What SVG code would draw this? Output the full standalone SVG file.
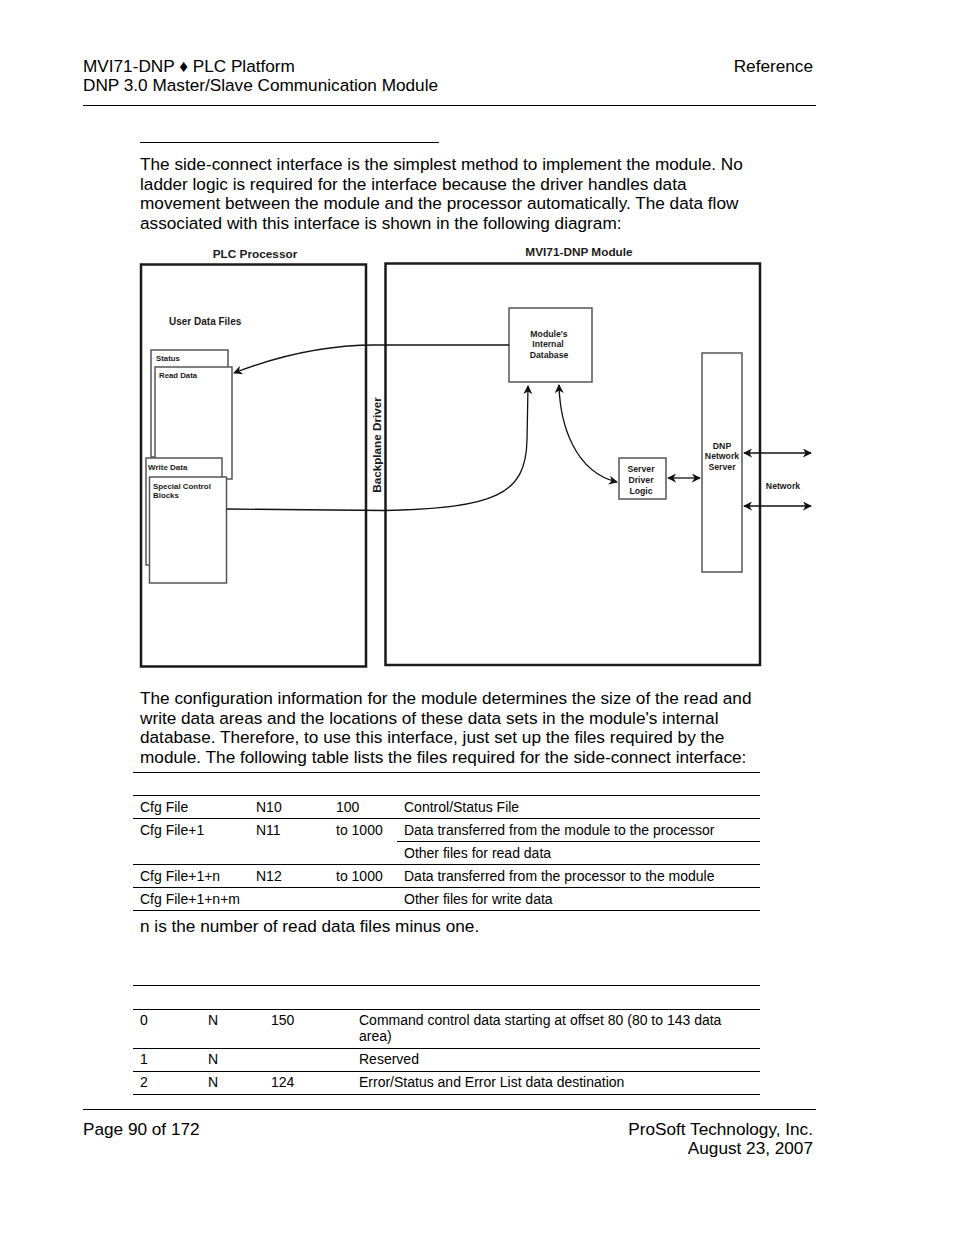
<svg xmlns="http://www.w3.org/2000/svg" width="954" height="1235" viewBox="0 0 954 1235">
<style>
.t{font-family:"Liberation Sans",Arial,sans-serif;fill:#000}
.h{font-size:17.2px}
.p{font-size:17.2px}
.tb{font-size:14px}
.d{font-family:"Liberation Sans",Arial,sans-serif;font-weight:bold;fill:#1a1a1a}
.outer{fill:none;stroke:#1a1a1a;stroke-width:2.5}
.box{fill:#fff;stroke:#555;stroke-width:1.5}
.rule{stroke:#000;stroke-width:1}
.conn{fill:none;stroke:#111;stroke-width:1.3}
</style>
<defs>
<marker id="ah" viewBox="0 0 10 10" refX="9" refY="5" markerWidth="9" markerHeight="9" orient="auto-start-reverse" markerUnits="userSpaceOnUse">
<path d="M0,0 L10,5 L0,10 L3,5 z" fill="#111"/>
</marker>
</defs>
<rect width="954" height="1235" fill="#fff"/>

<g id="header">
<text class="t h" x="83" y="72">MVI71-DNP ♦ PLC Platform</text>
<text class="t h" x="83" y="91">DNP 3.0 Master/Slave Communication Module</text>
<text class="t h" x="813" y="72" text-anchor="end">Reference</text>
<line class="rule" x1="83" y1="105.5" x2="816" y2="105.5"/>
<line class="rule" x1="140" y1="142.5" x2="439" y2="142.5"/>
</g>

<g id="intro">
<text class="t p" x="140" y="170">The side-connect interface is the simplest method to implement the module. No</text>
<text class="t p" x="140" y="190">ladder logic is required for the interface because the driver handles data</text>
<text class="t p" x="140" y="209">movement between the module and the processor automatically. The data flow</text>
<text class="t p" x="140" y="229">associated with this interface is shown in the following diagram:</text>
</g>

<g id="plc-processor">
<text class="d" x="255" y="258" font-size="11.8" text-anchor="middle">PLC Processor</text>
<rect class="outer" x="141" y="264.5" width="225" height="402"/>
<text class="d" x="169" y="325" font-size="10">User Data Files</text>
</g>
<g id="status-file">
<rect class="box" x="151" y="350" width="77" height="107"/>
<text class="d" x="156" y="361" font-size="7.8">Status</text>
</g>
<g id="read-data-file">
<rect class="box" x="155" y="367" width="77" height="112"/>
<text class="d" x="159" y="378" font-size="7.8">Read Data</text>
</g>
<g id="write-data-file">
<rect class="box" x="146" y="458" width="76" height="107"/>
<text class="d" x="148" y="470" font-size="8">Write Data</text>
</g>
<g id="special-control-blocks">
<rect class="box" x="149.5" y="477" width="77" height="106"/>
<text class="d" x="153" y="489" font-size="7.9">Special Control</text>
<text class="d" x="153" y="498" font-size="7.9">Blocks</text>
</g>

<g id="backplane-driver">
<text class="d" x="381" y="445" font-size="11.7" text-anchor="middle" transform="rotate(-90 381 445)">Backplane Driver</text>
</g>

<g id="mvi71-module">
<text class="d" x="579" y="256" font-size="11.8" text-anchor="middle">MVI71-DNP Module</text>
<rect class="outer" x="385.5" y="263.5" width="374.5" height="401.5"/>
</g>
<g id="internal-database">
<rect class="box" x="509" y="308" width="83" height="74"/>
<text class="d" x="549" y="337" font-size="8.7" text-anchor="middle">Module's</text>
<text class="d" x="548" y="347" font-size="8.7" text-anchor="middle">Internal</text>
<text class="d" x="549" y="358" font-size="8.7" text-anchor="middle">Database</text>
</g>
<g id="server-driver-logic">
<rect class="box" x="619" y="458" width="47" height="41"/>
<text class="d" x="641" y="472" font-size="8.7" text-anchor="middle">Server</text>
<text class="d" x="641" y="483" font-size="8.7" text-anchor="middle">Driver</text>
<text class="d" x="641" y="494" font-size="8.7" text-anchor="middle">Logic</text>
</g>
<g id="dnp-network-server">
<rect class="box" x="702" y="353" width="40" height="219"/>
<text class="d" x="722" y="449" font-size="8.7" text-anchor="middle">DNP</text>
<text class="d" x="722" y="459" font-size="8.7" text-anchor="middle">Network</text>
<text class="d" x="722" y="470" font-size="8.7" text-anchor="middle">Server</text>
</g>
<g id="network-label">
<text class="d" x="783" y="489" font-size="8.7" text-anchor="middle">Network</text>
</g>

<g id="connectors">
<path class="conn" d="M509,345 L375,345 C320,345 275,357 234,373" marker-end="url(#ah)"/>
<path class="conn" d="M226.5,509 L385,510.5 C495,508 526,495 527,440 L528,386" marker-end="url(#ah)"/>
<path class="conn" d="M559,385 C560,425 575,472 617,482" marker-start="url(#ah)" marker-end="url(#ah)"/>
<path class="conn" d="M668,478 L700,478" marker-start="url(#ah)" marker-end="url(#ah)"/>
<path class="conn" d="M744,453 L811,453" marker-start="url(#ah)" marker-end="url(#ah)"/>
<path class="conn" d="M744,506 L811,506" marker-start="url(#ah)" marker-end="url(#ah)"/>
</g>

<g id="para2">
<text class="t p" x="140" y="704">The configuration information for the module determines the size of the read and</text>
<text class="t p" x="140" y="724">write data areas and the locations of these data sets in the module's internal</text>
<text class="t p" x="140" y="743">database. Therefore, to use this interface, just set up the files required by the</text>
<text class="t p" x="140" y="763">module. The following table lists the files required for the side-connect interface:</text>
<line class="rule" x1="133" y1="772.5" x2="760" y2="772.5"/>
</g>

<g id="table1">
<line class="rule" x1="133" y1="795.5" x2="760" y2="795.5"/>
<text class="t tb" x="140" y="812">Cfg File</text>
<text class="t tb" x="256" y="812">N10</text>
<text class="t tb" x="336" y="812">100</text>
<text class="t tb" x="404" y="812">Control/Status File</text>
<line class="rule" x1="133" y1="818.5" x2="760" y2="818.5"/>
<text class="t tb" x="140" y="835">Cfg File+1</text>
<text class="t tb" x="256" y="835">N11</text>
<text class="t tb" x="336" y="835">to 1000</text>
<text class="t tb" x="404" y="835">Data transferred from the module to the processor</text>
<line class="rule" x1="397" y1="841.5" x2="760" y2="841.5"/>
<text class="t tb" x="404" y="858">Other files for read data</text>
<line class="rule" x1="133" y1="864.5" x2="760" y2="864.5"/>
<text class="t tb" x="140" y="881">Cfg File+1+n</text>
<text class="t tb" x="256" y="881">N12</text>
<text class="t tb" x="336" y="881">to 1000</text>
<text class="t tb" x="404" y="881">Data transferred from the processor to the module</text>
<line class="rule" x1="133" y1="887.5" x2="760" y2="887.5"/>
<text class="t tb" x="140" y="904">Cfg File+1+n+m</text>
<text class="t tb" x="404" y="904">Other files for write data</text>
<line class="rule" x1="133" y1="910.5" x2="760" y2="910.5"/>
<text class="t p" x="140" y="932">n is the number of read data files minus one.</text>
</g>

<g id="table2">
<line class="rule" x1="133" y1="985.5" x2="760" y2="985.5"/>
<line class="rule" x1="133" y1="1009.5" x2="760" y2="1009.5"/>
<text class="t tb" x="140" y="1025">0</text>
<text class="t tb" x="208" y="1025">N</text>
<text class="t tb" x="271" y="1025">150</text>
<text class="t tb" x="359" y="1025">Command control data starting at offset 80 (80 to 143 data</text>
<text class="t tb" x="359" y="1041">area)</text>
<line class="rule" x1="133" y1="1048.5" x2="760" y2="1048.5"/>
<text class="t tb" x="140" y="1064">1</text>
<text class="t tb" x="208" y="1064">N</text>
<text class="t tb" x="359" y="1064">Reserved</text>
<line class="rule" x1="133" y1="1071.5" x2="760" y2="1071.5"/>
<text class="t tb" x="140" y="1087">2</text>
<text class="t tb" x="208" y="1087">N</text>
<text class="t tb" x="271" y="1087">124</text>
<text class="t tb" x="359" y="1087">Error/Status and Error List data destination</text>
<line class="rule" x1="133" y1="1094.5" x2="760" y2="1094.5"/>
</g>

<g id="footer">
<line class="rule" x1="83" y1="1109.5" x2="816" y2="1109.5"/>
<text class="t h" x="83" y="1135">Page 90 of 172</text>
<text class="t h" x="813" y="1135" text-anchor="end">ProSoft Technology, Inc.</text>
<text class="t h" x="813" y="1154" text-anchor="end">August 23, 2007</text>
</g>
</svg>
